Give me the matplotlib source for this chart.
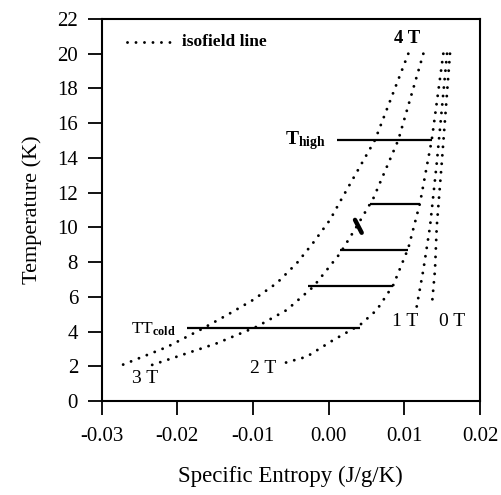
import matplotlib
matplotlib.use("Agg")
import matplotlib.pyplot as plt
from matplotlib.lines import Line2D

# ---- data ----
T4_s = [0.01052, 0.00612, 0.00150, 0.00017, -0.00207, -0.00419, -0.00683, -0.01000, -0.01344, -0.01701, -0.02137, -0.02732]
T4_T = [20.0, 15.03, 11.48, 10.43, 9.10, 7.95, 6.80, 5.82, 4.95, 4.09, 3.11, 2.07]

T3_s = [0.01251, 0.00920, 0.00590, 0.00370, 0.00150, -0.00203, -0.00555, -0.00951, -0.01480, -0.02339]
T3_T = [20.0, 15.03, 11.67, 10.05, 8.50, 6.58, 5.24, 4.28, 3.32, 2.07]

T2_s = [0.01515, 0.01362, 0.01296, 0.01207, 0.01052, 0.00854, 0.00635, 0.00414, 0.00061, -0.00291, -0.00600]
T2_T = [20.0, 15.03, 13.50, 11.40, 8.80, 6.68, 5.24, 4.38, 3.51, 2.55, 2.17]

T1_s = [0.01564, 0.01428, 0.01339, 0.01251, 0.01163]
T1_T = [20.0, 13.69, 10.04, 7.55, 5.43]

T0_s = [0.01603, 0.01494, 0.01428, 0.01405, 0.01362]
T0_T = [20.0, 13.69, 10.04, 7.55, 5.43]

# horizontal process lines: temperature, start entropy, end entropy
proc_T = [15.03, 11.35, 8.70, 6.61, 4.22]
proc_s0 = [0.00106, 0.00546, 0.00150, -0.00269, -0.01877]
proc_s1 = [0.01362, 0.01210, 0.01052, 0.00854, 0.00414]

# small arrow stroke on the 3 T curve
mark_s = [0.00348, 0.00436]
mark_T = [10.43, 9.69]

xticks = [-0.03, -0.02, -0.01, 0.00, 0.01, 0.02]
xticklabels = ["-0.03", "-0.02", "-0.01", "0.00", "0.01", "0.02"]
yticks = list(range(0, 23, 2))

plt.rcParams['font.family'] = ['Liberation Serif', 'DejaVu Serif']
plt.rcParams['mathtext.fontset'] = 'custom'
plt.rcParams['mathtext.rm'] = 'Liberation Serif'
plt.rcParams['mathtext.bf'] = 'Liberation Serif:bold'
plt.rcParams['mathtext.it'] = 'Liberation Serif:italic'

fig = plt.figure(figsize=(5.02, 4.95), dpi=100)
ax = fig.add_axes([0.2026, 0.1899, 0.7536, 0.7717])

dot = dict(color='black', linestyle=(0, (0.01, 2.9)), linewidth=2.1,
           dash_capstyle='round')
for s, T in [(T4_s, T4_T), (T3_s, T3_T), (T2_s, T2_T), (T1_s, T1_T), (T0_s, T0_T)]:
    ax.plot(s, T, **dot)

for T, a, b in zip(proc_T, proc_s0, proc_s1):
    ax.plot([a, b], [T, T], color='black', linewidth=1.6, solid_capstyle='butt')

ax.plot(mark_s, mark_T, color='black', linewidth=3.2, solid_capstyle='round')

ax.set_xlim(-0.03, 0.02)
ax.set_ylim(0, 22)
ax.set_xticks(xticks)
ax.set_xticklabels(xticklabels)
ax.set_yticks(yticks)
ax.tick_params(direction='out', length=10, width=1.3, labelsize=15, colors='black')
ax.tick_params(axis='x', pad=9)
ax.tick_params(axis='y', pad=7)
for sp in ax.spines.values():
    sp.set_linewidth(1.5)

ax.set_xlabel("Specific Entropy (J/g/K)", fontsize=16.5, labelpad=14)
ax.set_ylabel("Temperature (K)", fontsize=16, labelpad=11)

# legend (manual)
ax.add_line(Line2D([0.067, 0.180], [0.940, 0.940], transform=ax.transAxes, **dot))
ax.text(0.212, 0.940, "isofield line", transform=ax.transAxes, fontsize=12.5,
        fontweight='bold', va='center', ha='left')

# annotations
ax.text(0.01035, 20.9, "4 T", fontsize=13.5, fontweight='bold', ha='center', va='center')
ax.text(-0.0031, 15.0, r"T$_{\mathbf{high}}$", fontsize=14, fontweight='bold',
        ha='center', va='center')
ax.text(-0.0231, 4.15, r"TT$_{\mathbf{cold}}$", fontsize=12.5, ha='center', va='center')
ax.text(0.01009, 4.55, "1 T", fontsize=14, ha='center', va='center')
ax.text(0.01630, 4.55, "0 T", fontsize=14, ha='center', va='center')
ax.text(-0.00868, 1.85, "2 T", fontsize=14, ha='center', va='center')
ax.text(-0.02428, 1.27, "3 T", fontsize=14, ha='center', va='center')

fig.savefig("out.png", dpi=100)
